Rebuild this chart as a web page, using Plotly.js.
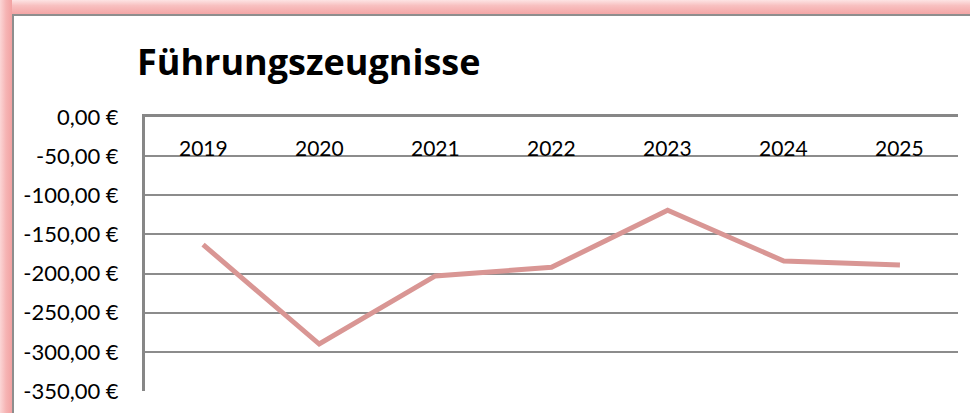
<!DOCTYPE html>
<html>
<head>
<meta charset="utf-8">
<script src="https://cdn.plot.ly/plotly-3.0.1.min.js"></script>
<style>
html,body{margin:0;padding:0;background:#fff;}
#frame{position:absolute;left:0;top:0;width:970px;height:413px;overflow:hidden;background:#fff;}
#topband{position:absolute;left:0;top:0;width:970px;height:14px;background:linear-gradient(to bottom,#fde4e4 0%,#f8c0c0 40%,#f4a6a6 100%);}
#leftband{position:absolute;left:0;top:0;width:12px;height:413px;background:linear-gradient(to right,#fbd6d6 0%,#f6b4b4 50%,#f2a2a2 100%);}
#inner{position:absolute;left:12px;top:14px;width:958px;height:399px;background:#fff;border-left:2px solid #8e8e8e;border-top:2px solid #8e8e8e;box-sizing:border-box;}
#chart{position:absolute;left:0;top:0;width:970px;height:413px;}
</style>
</head>
<body>
<div id="frame">
  <div id="topband"></div>
  <div id="leftband"></div>
  <div id="inner"></div>
  <div id="chart"></div>
</div>
<script>
const years = ["2019","2020","2021","2022","2023","2024","2025"];
const values = [-163, -290, -203, -192, -119, -184, -189];
const yTickVals = [0, -50, -100, -150, -200, -250, -300, -350];
const yTickText = ["0,00 €","-50,00 €","-100,00 €","-150,00 €","-200,00 €","-250,00 €","-300,00 €","-350,00 €"];
const chartTitle = "Führungszeugnisse";

const font = "Lato, 'Open Sans', sans-serif";

// category labels drawn below the top axis line, positioned by category index
const yearLabels = years.map(function (yr, i) {
  return {
    text: yr, x: i, xref: "x",
    y: 1 - (147 - 117) / 274, yref: "paper",
    xanchor: "center", yanchor: "middle",
    showarrow: false,
    font: {family: font, size: 21, color: "#000"}
  };
});

Plotly.newPlot("chart", [{
  type: "scatter",
  mode: "lines",
  x: years,
  y: values,
  line: {color: "#d99694", width: 5},
  hoverinfo: "skip"
}], {
  width: 970, height: 413,
  paper_bgcolor: "rgba(0,0,0,0)",
  plot_bgcolor: "rgba(0,0,0,0)",
  margin: {l: 145, r: 12, t: 117, b: 22, pad: 0},
  showlegend: false,
  title: {
    text: "<b>" + chartTitle + "</b>",
    font: {family: "'Open Sans', sans-serif", size: 36, color: "#000"},
    xref: "container", yref: "container",
    x: 137/970, xanchor: "left",
    y: 1 - 62/413, yanchor: "middle"
  },
  annotations: yearLabels,
  xaxis: {
    type: "category",
    side: "top",
    showticklabels: false,
    showgrid: false,
    showline: true, linecolor: "#878787", linewidth: 3,
    ticks: "",
    range: [-0.5, 6.5],
    fixedrange: true
  },
  yaxis: {
    range: [-350, 0],
    tickvals: yTickVals,
    ticktext: yTickText,
    showgrid: true, gridcolor: "#8c8c8c", gridwidth: 2,
    zeroline: true, zerolinecolor: "#878787", zerolinewidth: 3,
    showline: true, linecolor: "#878787", linewidth: 3,
    ticks: "",
    ticklabelstandoff: 19,
    tickfont: {family: font, size: 22, color: "#000"},
    fixedrange: true
  }
}, {staticPlot: true});
</script>
</body>
</html>
